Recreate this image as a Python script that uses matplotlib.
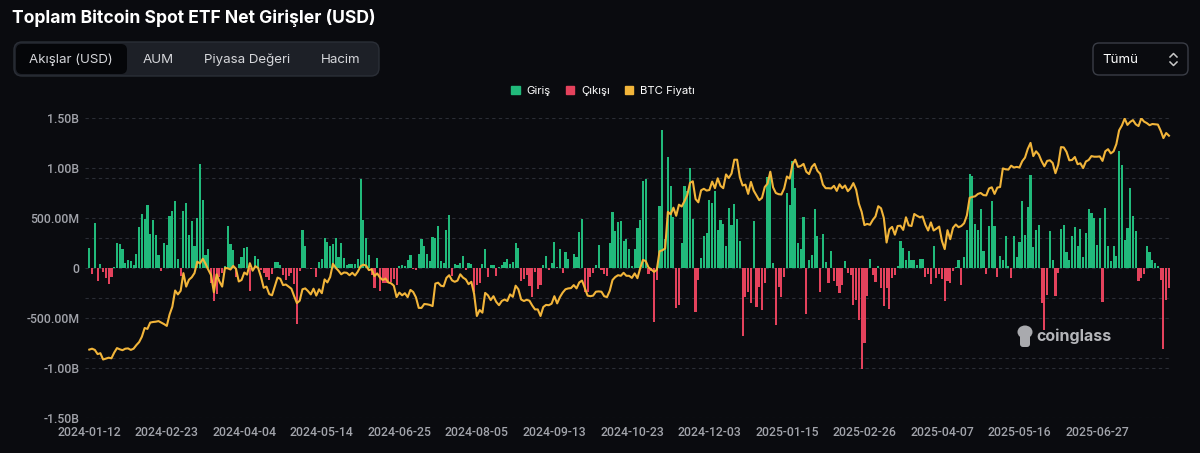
import matplotlib.pyplot as plt
import matplotlib.patches as mpatches
from matplotlib.patches import FancyBboxPatch, Ellipse
import numpy as np
import pandas as pd

# ---- data (net flows in millions USD, BTC price in thousands USD), per trading day ----
nyse_holidays = ['2024-01-15', '2024-02-19', '2024-03-29', '2024-05-27', '2024-06-19',
                 '2024-07-04', '2024-09-02', '2024-11-28', '2024-12-25', '2025-01-01',
                 '2025-01-09', '2025-01-20', '2025-02-17', '2025-04-18', '2025-05-26',
                 '2025-06-19', '2025-07-04']
first_day = '2024-01-12'

flows_m = (
    # 2024-01
    [200, -57, 450, -133, 43, -35, -95, -155, -90, 15, 250, 243, 190]
    # 2024-02
    + [50, 77, 67, 33, 143, 407, 540, 493, 633, 340, 477, 330, 133, -33, 250, 227]
    # 2024-02-26 .. 2024-03-28
    + [523, 573, 673, 90, -83, 567, 647, 330, 473, 223, 500, 1045, 684, 133, 190,
       -154, -326, -261, -94, -53, 16, 418, 243, 179]
    # 2024-04
    + [-86, 40, 113, 205, 207, -233, -10, 117, 90, -20, -50, -85, -115, -55, 57,
       57, 27, -67, -117, -83, -50, -162]
    # 2024-05
    + [-563, -30, 378, 217, 3, -5, 2, -90, 57, 90, 303, 257, 222, 237, 305,
       108, 250, 100, 27, 40, 43, 40]
    # 2024-06
    + [90, 887, 483, 300, 131, -65, -200, 100, -226, -146, -145, -152, -140, -105,
       -174, 20, 27, 17, 77]
    # 2024-07
    + [129, -13, -20, 143, 295, 216, 145, 67, 310, 301, 423, 73, 50, 384, 533,
       -78, 44, 31, 52, 124, -18, 50]
    # 2024-08
    + [40, -237, -168, -148, 45, 192, -89, 33, 33, -81, 11, 32, 62, 88, 40,
       65, 252, 202, -127, -105, -70, -175]
    # 2024-09
    + [-288, -38, -211, -169, 28, 117, -15, 47, 263, 13, 187, -52, 158, 92, 5,
       136, 106, 365, 494, -242]
    # 2024-10
    + [-243, -92, -54, 26, 235, -19, -59, -82, 254, 556, 371, 458, 470, 274, 294,
       192, 22, 188, 402, 479, 870, 893, -55]
    # 2024-11
    + [-30, -541, -116, 621, 1376, 294, 1114, 817, 510, -400, -370, 255, 816, 773,
       1004, 490, -438, -122, 104, 320]
    # 2024-12
    + [353, 676, 650, 766, 376, 479, 439, 223, 597, 428, 637, 493, 275, -680, -287,
       -237, -353, 470, -387, -187, -420]
    # 2025-01
    + [-153, 910, 960, 47, -570, -187, -287, -87, 755, 626, 1073, 802, 248, 188, 513,
       -458, 80, 130, 588, 318]
    # 2025-02
    + [-237, 340, 65, -153, 167, -133, -183, -250, -167, 67, -50, -67, -367, -317,
       -516, -1014, -754, -275, 93]
    # 2025-03
    + [-74, -143, 22, -200, -383, -200, -410, -100, -67, 20, 274, 200, 77, 167, 80,
       84, 27, 89, 90, -93, -60]
    # 2025-04
    + [-157, 220, -99, -64, -109, -326, -127, -150, -30, 15, 76, -169, 107, 381, 936,
       917, 442, 380, 591, 173, -56]
    # 2025-05
    + [422, 675, 425, -86, 117, 83, 321, 20, -96, 319, 115, 260, 667, 329, 608,
       934, 211, 385, 432, -346, -616]
    # 2025-06
    + [-267, 373, 83, -283, -47, 386, 431, 165, 83, 322, 408, 216, 389, 107, 350,
       589, 548, 500, 227, 500]
    # 2025-07
    + [-343, 600, 217, 67, 217, 125, 1175, 1030, 283, 400, 800, 523, 367, -133, -100,
       -60, 223, 157, 80, 50, 20, -115]
    # 2025-08
    + [-812, -323, -196]
)

btc_price_k = (
    [42.8, 43.1, 42.7, 41.3, 41.6, 39.5, 39.8, 40.1, 39.9, 41.8, 43.3, 42.9, 42.6]
    + [43.1, 43.2, 42.7, 43.1, 44.3, 45.3, 47.1, 50.0, 49.7, 51.8, 52.0, 52.1, 52.3,
       51.8, 51.3, 50.7]
    + [54.5, 57.1, 62.5, 61.2, 62.4, 68.3, 63.8, 66.1, 66.9, 68.3, 72.1, 71.5, 73.1,
       71.4, 69.4, 67.6, 61.9, 67.9, 65.5, 63.8, 70.0, 69.9, 69.5, 70.7]
    + [69.7, 65.5, 66.0, 68.5, 67.8, 71.6, 69.1, 70.6, 70.0, 67.1, 63.4, 63.8, 61.3,
       60.9, 63.8, 66.8, 66.4, 64.3, 64.5, 63.8, 63.1, 60.6]
    + [58.3, 59.1, 62.9, 63.2, 62.3, 61.2, 63.1, 60.8, 62.9, 61.6, 66.2, 65.2, 67.0,
       71.4, 70.1, 69.1, 67.9, 68.5, 68.4, 67.6, 68.4, 67.5]
    + [68.8, 70.6, 71.1, 70.8, 69.3, 69.6, 67.3, 68.2, 66.8, 66.0, 66.5, 65.2, 64.9,
       64.1, 60.3, 61.8, 60.9, 61.6, 60.3]
    + [62.7, 62.0, 60.2, 56.7, 56.7, 58.0, 57.9, 57.7, 57.3, 64.8, 65.1, 64.1, 63.9,
       66.7, 67.6, 65.9, 65.4, 65.8, 67.9, 66.8, 66.2, 64.6]
    + [65.4, 61.4, 54.0, 56.0, 55.1, 61.7, 60.9, 59.3, 60.6, 58.7, 57.6, 59.0, 59.5,
       59.0, 61.2, 60.4, 64.1, 62.9, 59.5, 59.0, 59.4, 59.1]
    + [57.5, 56.2, 56.2, 54.0, 57.0, 57.7, 57.6, 58.1, 60.6, 58.2, 60.3, 61.8, 62.9,
       63.2, 63.3, 64.3, 63.2, 65.2, 65.8, 63.3]
    + [60.8, 60.6, 60.8, 62.1, 62.2, 62.1, 60.6, 60.3, 62.4, 66.0, 67.0, 67.6, 67.4,
       68.4, 67.4, 67.4, 66.7, 68.2, 66.6, 69.9, 72.7, 72.3, 70.2]
    + [69.5, 68.7, 69.4, 75.6, 75.9, 76.5, 88.7, 87.9, 90.1, 87.4, 91.1, 90.5, 92.3,
       94.3, 98.4, 98.9, 93.0, 91.9, 95.9, 96.4]
    + [95.8, 96.0, 98.8, 96.6, 99.9, 97.4, 96.6, 101.2, 100.0, 101.5, 106.1, 106.1,
       100.2, 97.5, 97.8, 94.7, 98.7, 95.8, 94.2, 92.6, 93.4]
    + [97.0, 98.1, 102.1, 96.9, 95.0, 94.6, 94.5, 96.5, 100.5, 99.8, 104.5, 106.1,
       103.7, 104.0, 104.7, 102.1, 101.3, 103.7, 104.7, 102.4]
    + [101.4, 97.8, 96.6, 96.6, 96.5, 97.4, 95.7, 97.9, 96.6, 97.5, 95.6, 96.6, 98.3,
       96.1, 91.4, 88.7, 84.3, 84.7, 84.4]
    + [86.0, 87.2, 90.6, 89.9, 86.7, 78.5, 82.9, 83.7, 81.1, 84.0, 84.1, 82.7, 86.9,
       84.2, 84.0, 88.0, 87.4, 86.9, 87.2, 84.4, 82.5]
    + [85.2, 82.5, 83.1, 83.8, 79.0, 76.3, 82.6, 79.6, 83.4, 84.5, 83.6, 84.0, 84.9,
       87.5, 93.4, 93.7, 93.9, 94.7, 95.0, 94.3, 94.2]
    + [96.5, 96.9, 94.7, 96.8, 97.0, 103.2, 102.9, 102.8, 104.1, 103.5, 103.7, 103.5,
       105.6, 106.8, 109.7, 111.7, 107.3, 108.9, 107.8, 105.6, 103.9]
    + [105.7, 105.9, 105.0, 101.6, 104.4, 110.3, 110.2, 108.7, 105.9, 106.0, 107.0,
       104.6, 104.9, 103.3, 105.5, 106.0, 107.3, 107.1, 107.1, 107.2]
    + [105.7, 108.9, 109.6, 108.2, 108.9, 111.3, 115.9, 117.5, 119.8, 117.7, 118.7,
       119.3, 117.9, 117.3, 119.9, 118.8, 118.3, 117.6, 118.0, 117.9, 117.8, 115.8]
    + [113.3, 115.0, 114.1]
)

y_ticks = [-1.5e9, -1.0e9, -5e8, 0, 5e8, 1.0e9, 1.5e9]
y_labels = ['-1.50B', '-1.00B', '-500.00M', '0', '500.00M', '1.00B', '1.50B']
price_grid_k = [40, 60, 80, 100]
tab_names = ['Akışlar (USD)', 'AUM', 'Piyasa Değeri', 'Hacim']
legend_names = ['Giriş', 'Çıkışı', 'BTC Fiyatı']

# ---- colours ----
BG = '#0a0b0f'
GREEN = '#21ba7b'
RED = '#e4425c'
GOLD = '#f2b53a'
GRID = '#2a2d35'
TXT = '#a2a4ab'

n = len(flows_m)
bday = pd.offsets.CustomBusinessDay(holidays=nyse_holidays)
dates = pd.date_range(first_day, periods=n, freq=bday)
x = np.arange(n)
flows = np.array(flows_m) * 1e6
colors = [GREEN if v >= 0 else RED for v in flows]

fig = plt.figure(figsize=(12, 4.53), dpi=100, facecolor=BG)

# overlay in pixel coords for the page chrome
ov = fig.add_axes([0, 0, 1, 1], zorder=0)
ov.set_xlim(0, 1200)
ov.set_ylim(453, 0)
ov.axis('off')

ov.text(12, 18, 'Toplam Bitcoin Spot ETF Net Girişler (USD)', color='white',
        fontsize=12.6, fontweight='bold', family='Inter', va='center', ha='left')

ov.add_patch(FancyBboxPatch((14, 42), 365, 34, boxstyle='round,pad=0,rounding_size=8',
                            fc='#1d2027', ec='#2b2f37', lw=1))
ov.add_patch(FancyBboxPatch((16, 44), 111, 30, boxstyle='round,pad=0,rounding_size=6',
                            fc='#050609', ec='none'))
for name, cx in zip(tab_names, [71, 158, 247, 341]):
    ov.text(cx, 60, name, color='#d6d7db', fontsize=9.6, family='Inter',
            ha='center', va='center')

ov.add_patch(FancyBboxPatch((1093, 43), 95, 32, boxstyle='round,pad=0,rounding_size=6',
                            fc=BG, ec='#3a3d46', lw=1))
ov.text(1102, 60, 'Tümü', color='white', fontsize=9.6, family='Inter', va='center')
ov.plot([1170, 1173.5, 1177], [57, 53.5, 57], color='#c8c8c8', lw=1.1)
ov.plot([1170, 1173.5, 1177], [62, 65.5, 62], color='#c8c8c8', lw=1.1)

# watermark
ov.add_patch(Ellipse((1025, 332), 15, 13, fc='#a9aaae', ec='none'))
ov.add_patch(FancyBboxPatch((1020, 334), 10, 13, boxstyle='round,pad=0,rounding_size=3',
                            fc='#a9aaae', ec='none'))
ov.text(1036, 336, 'coinglass', color='#b4b5b9', fontsize=11.5, fontweight='bold',
        family='Inter', va='center', ha='left')

# ---- main chart ----
L, R, T, B = 85, 1172, 118, 418
ax = fig.add_axes([L / 1200, 1 - B / 453, (R - L) / 1200, (B - T) / 453], zorder=2)
ax.patch.set_visible(False)
ax.bar(x, flows, width=0.78, color=colors, zorder=2)
ax.set_ylim(-1.5e9, 1.5e9)
ax.set_xlim(-1.55, n - 1 + 1.1)

ax.set_yticks(y_ticks)
ax.set_yticklabels(y_labels)
# dashed guide lines of the (hidden) price scale: price -> flow-axis position
ax.set_yticks([(p - 70) * 3e7 for p in price_grid_k], minor=True)
ax.grid(axis='y', which='both', color=GRID, linestyle=(0, (3, 3)), linewidth=0.8)
ax.set_axisbelow(True)

tick_idx = list(range(0, n, 28))
ax.set_xticks(tick_idx)
ax.set_xticklabels([dates[i].strftime('%Y-%m-%d') for i in tick_idx])
ax.tick_params(axis='both', which='both', length=0, colors=TXT, labelsize=8.8)
ax.tick_params(axis='x', pad=6)
ax.tick_params(axis='y', pad=4)
for lab in ax.get_xticklabels() + ax.get_yticklabels():
    lab.set_family('Roboto')
    lab.set_fontweight('medium')
for s in ax.spines.values():
    s.set_visible(False)

ax2 = ax.twinx()
ax2.plot(x, btc_price_k, color=GOLD, lw=1.5, zorder=3)
ax2.set_ylim(20, 120)
ax2.set_yticks([])
for s in ax2.spines.values():
    s.set_visible(False)

handles = [mpatches.Patch(color=GREEN), mpatches.Patch(color=RED), mpatches.Patch(color=GOLD)]
fig.legend(handles, legend_names, loc='center', bbox_to_anchor=(603 / 1200, 1 - 91 / 453),
           ncol=3, frameon=False, handlelength=0.75, handleheight=0.75, handletextpad=0.6,
           columnspacing=1.3, prop={'family': 'Inter', 'size': 8.2}, labelcolor='white')

fig.savefig('out.png', dpi=100, facecolor=BG)
